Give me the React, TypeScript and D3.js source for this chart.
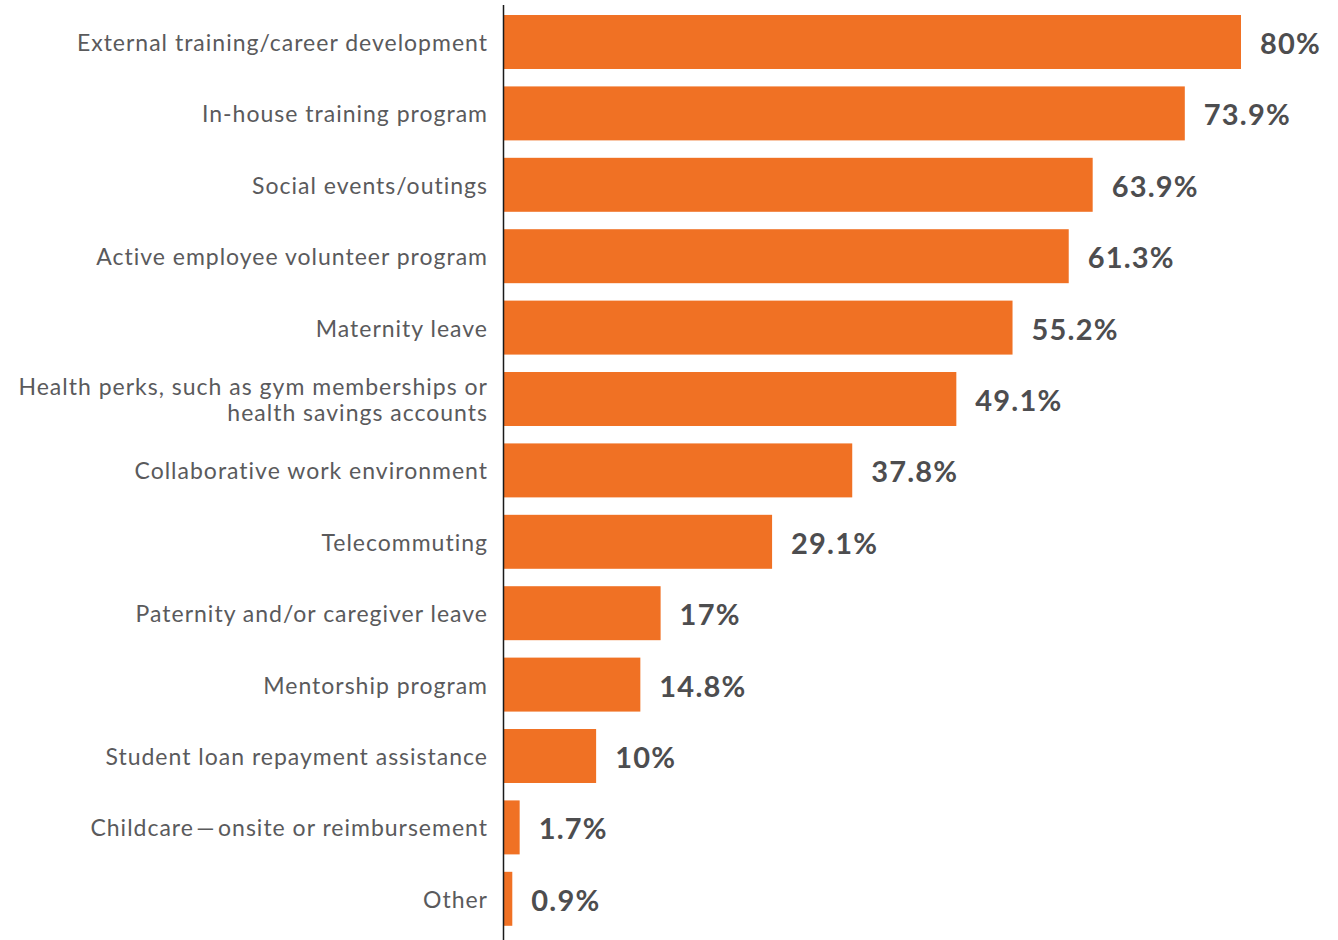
import React, { useEffect, useRef } from "react";
import * as d3 from "d3";

const categories: string[][] = [
  ["External training/career development"],
  ["In-house training program"],
  ["Social events/outings"],
  ["Active employee volunteer program"],
  ["Maternity leave"],
  ["Health perks, such as gym memberships or", "health savings accounts"],
  ["Collaborative work environment"],
  ["Telecommuting"],
  ["Paternity and/or caregiver leave"],
  ["Mentorship program"],
  ["Student loan repayment assistance"],
  ["Childcare\u200A\u2014\u200Aonsite or reimbursement"],
  ["Other"],
];
const values: number[] = [80, 73.9, 63.9, 61.3, 55.2, 49.1, 37.8, 29.1, 17, 14.8, 10, 1.7, 0.9];
const valueLabels: string[] = ["80%", "73.9%", "63.9%", "61.3%", "55.2%", "49.1%", "37.8%", "29.1%", "17%", "14.8%", "10%", "1.7%", "0.9%"];

const W = 1338;
const H = 940;

export default function App() {
  const ref = useRef<SVGSVGElement | null>(null);
  useEffect(() => {
    const svg = d3.select(ref.current);
    svg.selectAll("*").remove();
    const idx = values.map((_, i) => String(i));
    const y = d3.scaleBand<string>().domain(idx).range([6.3, 934.5]).paddingInner(0.244).paddingOuter(0.122);
    const x = d3.scaleLinear().domain([0, 80]).range([504, 1241]);

    svg
      .selectAll("rect.bar")
      .data(values)
      .join("rect")
      .attr("class", "bar")
      .attr("x", x(0))
      .attr("y", (_, i) => y(String(i))!)
      .attr("width", (d) => x(d) - x(0))
      .attr("height", y.bandwidth())
      .attr("fill", "#f07124");

    svg
      .selectAll("text.val")
      .data(values)
      .join("text")
      .attr("class", "val")
      .attr("x", (d) => x(d) + 19)
      .attr("y", (_, i) => y(String(i))! + y.bandwidth() / 2 + 0.5)
      .attr("dominant-baseline", "central")
      .attr("font-family", "Lato, sans-serif")
      .attr("font-weight", 700)
      .attr("font-size", 29)
      .attr("letter-spacing", 1.2)
      .attr("fill", "#4d4d4f")
      .text((_, i) => valueLabels[i]);

    const lab = svg
      .selectAll("text.cat")
      .data(categories)
      .join("text")
      .attr("class", "cat")
      .attr("text-anchor", "end")
      .attr("font-family", "Lato, sans-serif")
      .attr("font-size", 23)
      .attr("letter-spacing", 1.0)
      .attr("fill", "#5a5a5c");
    lab.each(function (lines, i) {
      const cy = y(String(i))! + y.bandwidth() / 2;
      const t = d3.select(this);
      lines.forEach((ln, k) => {
        t.append("tspan")
          .attr("x", 488)
          .attr("y", cy + (k - (lines.length - 1) / 2) * 26)
          .attr("dominant-baseline", "central")
          .text(ln);
      });
    });

    svg
      .append("line")
      .attr("x1", 503.5)
      .attr("x2", 503.5)
      .attr("y1", 5)
      .attr("y2", H)
      .attr("stroke", "#1a1a1a")
      .attr("stroke-width", 1.5);
  }, []);
  return (
    <svg
      ref={ref}
      width={W}
      height={H}
      style={{ position: "absolute", left: 0, top: 0, background: "#fff" }}
    />
  );
}
